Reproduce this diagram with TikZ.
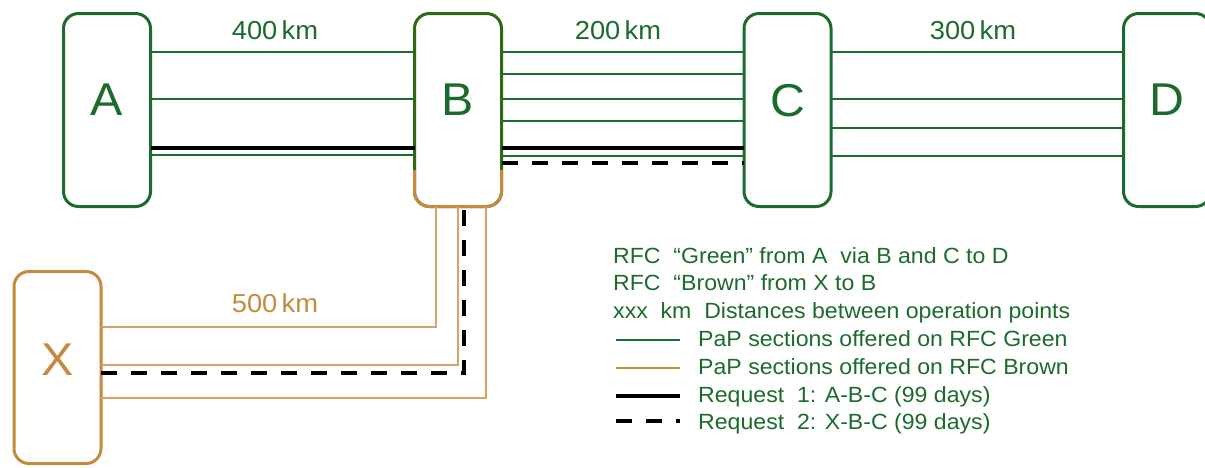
\documentclass[tikz,border=0pt]{standalone}
\usepackage{fontspec}
\setmainfont[FakeStretch=1.05]{Liberation Sans}
\definecolor{RFCGreen}{HTML}{1B6B2C}
\definecolor{RFCOlive}{HTML}{2F6A12}
\definecolor{RFCBrown}{HTML}{C58A3E}
\definecolor{PaPBrown}{HTML}{D6A467}

\begin{document}
\begin{tikzpicture}[x=1pt,y=-1pt,
  font=\fontsize{22}{26}\selectfont,
  point/.style={draw=RFCGreen,fill=white,line width=3pt,rounded corners=15pt,
    outer sep=0pt,minimum width=87pt,minimum height=193pt,text depth=20pt,
    text=RFCGreen,font=\fontsize{46}{50}\selectfont},
  papgreen/.style={RFCGreen,line width=1.2pt},
  papbrown/.style={PaPBrown,line width=1.2pt},
  req/.style={black,line width=4pt},
  reqdash/.style={black,line width=4pt,dash pattern=on 16pt off 14pt},
  dist/.style={font=\fontsize{26}{30}\selectfont,text=RFCGreen},
  legend/.style={anchor=base west,inner sep=0pt,text=RFCGreen}]
  \path[use as bounding box] (0,0) rectangle (1205,467);
  \clip (0,0) rectangle (1205,467);
  % operation points
  \node[point] (A) at (107,110) {A};
  \node[point,draw=RFCOlive] (B) at (458,110) {B};
  \node[point] (C) at (787.5,110) {C};
  \node[point] (D) at (1167,110) {D};
  \node[point,draw=RFCBrown,text=RFCBrown,minimum height=192pt,text depth=15pt]
    (X) at (57.5,367.5) {X};
  \draw[RFCBrown,line width=3pt,rounded corners=15pt] (B.west |- 0,170)
    -- (B.south west) -- (B.south east) -- (B.east |- 0,170);
  % RFC Green
  \foreach \y in {52,99,155}
    \draw[papgreen] (A.east |- 0,\y) -- (B.west |- 0,\y);
  \foreach \y in {52,74,99,121,156}
    \draw[papgreen] (B.east |- 0,\y) -- (C.west |- 0,\y);
  \foreach \y in {52,99,128,156}
    \draw[papgreen] (C.east |- 0,\y) -- (D.west |- 0,\y);
  % RFC Brown
  \draw[papbrown] (X.east |- 0,327) -| (B.south -| 436,0);
  \draw[papbrown] (X.east |- 0,365) -| (B.south -| 458,0);
  \draw[papbrown] (X.east |- 0,398) -| (B.south -| 486,0);
  % requests
  \draw[req] (A.east |- 0,148) -- (B.west |- 0,148);
  \draw[req] (B.east |- 0,148) -- (C.west |- 0,148);
  \draw[reqdash] (X.east |- 0,373) -| (B.south -| 464,0);
  \draw[reqdash] (B.east |- 0,163) -- (C.west |- 0,163);
  % distances
  \node[dist] (dAB) at (275,30) {400\,km};
  \node[dist] (dBC) at (618,30) {200\,km};
  \node[dist] (dCD) at (973,30) {300\,km};
  \node[dist,text=RFCBrown] (dXB) at (275,303) {500\,km};
  % legend
  \node[legend] (l1) at (613,263) {RFC\ \ ``Green'' from A\ \ via B and C to D};
  \node[legend] (l2) at (613,290.8) {RFC\ \ ``Brown'' from X to B};
  \node[legend] (l3) at (613,318.6) {xxx\ \ km\ \ Distances between operation points};
  \node[legend] (l4) at (698,346.4) {PaP sections offered on RFC Green};
  \node[legend] (l5) at (698,374.2) {PaP sections offered on RFC Brown};
  \node[legend] (l6) at (698,402) {Request\ \ 1: A-B-C (99 days)};
  \node[legend] (l7) at (698,429.8) {Request\ \ 2: X-B-C (99 days)};
  \draw[RFCGreen,line width=2.5pt] (616,340) -- (680,340);
  \draw[RFCBrown,line width=2.5pt] (616,368) -- (680,368);
  \draw[req] (616,396) -- (680,396);
  \draw[reqdash] (616,421) -- (680,421);
\end{tikzpicture}
\end{document}
